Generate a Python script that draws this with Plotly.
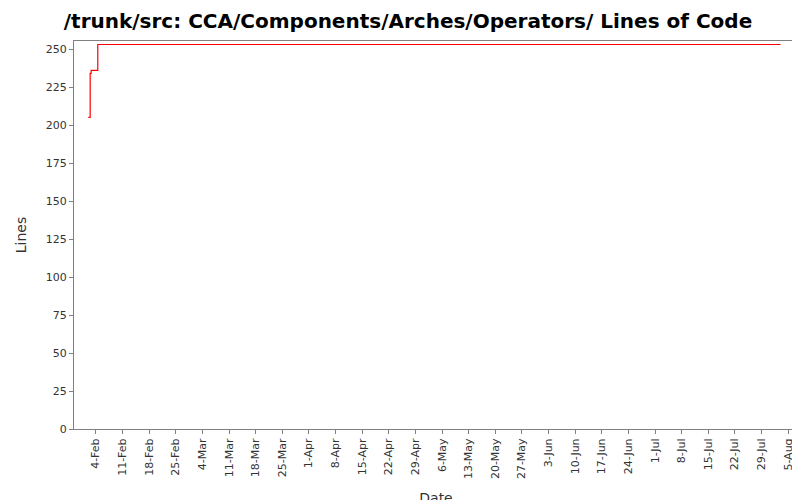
import plotly.graph_objects as go

dates = ["2007-02-02 00:00", "2007-02-02 12:00", "2007-02-02 18:00", "2007-02-04 12:00", "2007-08-03 00:00"]
lines = [205, 234, 236, 253, 253]

tick_start = "2007-02-04"

fig = go.Figure(go.Scatter(x=dates, y=lines, mode="lines", line_shape="hv",
                           line=dict(color="#ff0000", width=1.2)))

fig.update_layout(
    width=800, height=500,
    title=dict(text="<b>/trunk/src: CCA/Components/Arches/Operators/ Lines of Code</b>",
               x=0.5, y=0.975, yanchor="middle", automargin=False,
               font=dict(family="DejaVu Sans", size=20, color="black")),
    paper_bgcolor="white", plot_bgcolor="white",
    margin=dict(l=66, r=10, t=33, b=79, autoexpand=False),
    font=dict(family="DejaVu Sans", size=11, color="#333333"),
    showlegend=False,
)
fig.update_xaxes(title_text="Date", range=["2007-01-29 06:00", "2007-08-07 14:00"],
                 tick0=tick_start, dtick=7 * 86400000, tickformat="%-d-%b", tickangle=-90,
                 showgrid=False, showline=True, linecolor="gray", mirror=True,
                 ticks="outside", ticklen=4, tickcolor="gray", title_font=dict(size=14),
                 automargin=False)
fig.update_yaxes(title_text="Lines", range=[0, 255.3], dtick=25, showgrid=False,
                 showline=True, linecolor="gray", mirror=True, zeroline=False,
                 ticks="outside", ticklen=4, tickcolor="gray", title_font=dict(size=14),
                 automargin=False)

fig.write_html("out.html")
